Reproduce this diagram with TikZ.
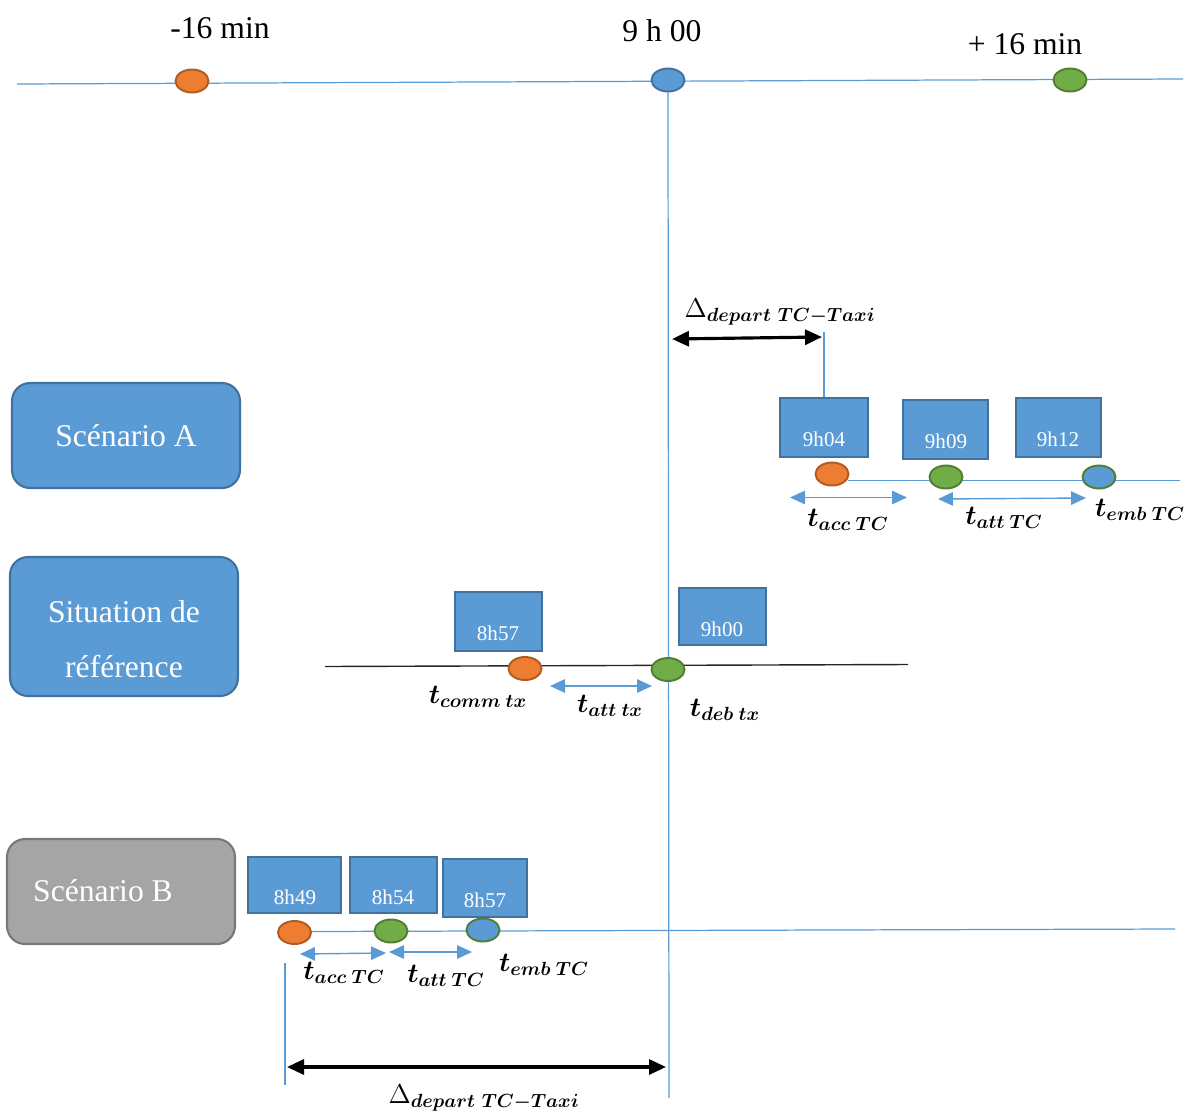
\documentclass[tikz,border=0pt]{standalone}
\usepackage{fix-cm}
\usepackage{amsmath,bm}
\usepackage{fontspec}
\setmainfont{Liberation Serif}
\usetikzlibrary{shapes.geometric,arrows.meta}
\definecolor{lblue}{HTML}{5B9BD5}
\definecolor{dblue}{HTML}{41719C}
\definecolor{corange}{HTML}{ED7D31}
\definecolor{dorange}{HTML}{AE5A21}
\definecolor{cgreen}{HTML}{70AD47}
\definecolor{dgreen}{HTML}{507E32}
\definecolor{cgray}{HTML}{A5A5A5}
\definecolor{dgray}{HTML}{787878}
\pgfdeclarelayer{bg}\pgfsetlayers{bg,main}
\begin{document}
\begin{tikzpicture}[x=0.02cm,y=-0.02cm,
  tline/.style={draw=lblue, line width=0.7pt},
  ell/.style={ellipse, minimum width=0.66cm, minimum height=0.46cm, inner sep=0pt, line width=1.1pt},
  oell/.style={ell, fill=corange, draw=dorange},
  gell/.style={ell, fill=cgreen, draw=dgreen},
  bell/.style={ell, fill=lblue, draw=dblue},
  bgell/.style={ell, fill=lblue, draw=dgreen},
  tbox/.style={rectangle, fill=lblue, draw=dblue, line width=0.9pt, inner sep=0pt},
  ttext/.style={text=white, font=\fontsize{12}{14}\selectfont, inner sep=0pt},
  sbox/.style={rectangle, rounded corners=0.36cm, minimum width=4.56cm, line width=1.2pt, inner sep=0pt},
  stext/.style={text=white, font=\fontsize{18}{22}\selectfont, inner sep=0pt},
  toptext/.style={font=\fontsize{18}{22}\selectfont, inner sep=0pt, anchor=base},
  mlab/.style={font=\fontsize{15.5}{18}\selectfont, inner sep=0pt},
  barr/.style={draw=lblue, line width=0.8pt, {Triangle[length=0.3cm,width=0.27cm]}-{Triangle[length=0.3cm,width=0.27cm]}},
  karr/.style={draw=black, line width=1.8pt, {Triangle[length=0.34cm,width=0.3cm]}-{Triangle[length=0.34cm,width=0.3cm]}}
]
\useasboundingbox (0,0) rectangle (1186,1116);

% ---------- top time axis ----------
\coordinate (tl0) at (17,84);
\coordinate (tl1) at (1183,79);
\node[oell] (o1) at (192,81) {};
\node[bell] (b1) at (668,80) {};
\node[gell] (g1) at (1070,80) {};
\node[toptext] (lm16) at (220,38) {-16 min};
\node[toptext] (l900) at (662,41) {9 h 00};
\node[toptext] (lp16) at (1025,54) {+ 16 min};
\coordinate (vbot) at (669,1098);

% ---------- scenario boxes ----------
\node[sbox, fill=lblue, draw=dblue, minimum height=2.1cm] (sA) at (126,435.5) {};
\node[stext, anchor=base] (sAt) at (126,446) {Scénario A};
\node[sbox, fill=lblue, draw=dblue, minimum height=2.78cm] (sR) at (124,626.5) {};
\node[stext, anchor=base] (sRt1) at (124,622) {Situation de};
\node[stext, anchor=base] (sRt2) at (124,677) {référence};
\node[sbox, fill=cgray, draw=dgray, minimum height=2.1cm] (sB) at (121,891.5) {};
\node[stext, anchor=base] (sBt) at (103,901) {Scénario B};

% ---------- Scenario A ----------
\node[tbox, minimum width=1.76cm, minimum height=1.18cm] (a1) at (824,427.5) {};
\node[tbox, minimum width=1.70cm, minimum height=1.18cm] (a2) at (945.5,429.5) {};
\node[tbox, minimum width=1.70cm, minimum height=1.18cm] (a3) at (1058.5,427.5) {};
\node[ttext] (a1t) at (824,439) {9h04};
\node[ttext] (a2t) at (946,441) {9h09};
\node[ttext] (a3t) at (1058,439) {9h12};
\coordinate (lA0) at (848,480.5);
\coordinate (lA1) at (1180,480.5);
\node[oell] (ao) at (832,474) {};
\node[gell] (ag) at (946,477) {};
\node[bgell] (ab) at (1099,477) {};
\coordinate (aA1) at (790,497.5);
\coordinate (aA2) at (907,497.5);
\coordinate (aB1) at (938,499);
\coordinate (aB2) at (1086,498);
\node[mlab] (atacc) at (848,520) {$\boldsymbol{t}_{\boldsymbol{acc\;TC}}$};
\node[mlab] (atatt) at (1004,518) {$\boldsymbol{t}_{\boldsymbol{att\;TC}}$};
\node[mlab] (atemb) at (1140,510) {$\boldsymbol{t}_{\boldsymbol{emb\;TC}}$};
\node[mlab] (adelta) at (780,312) {$\Delta_{\boldsymbol{depart\ TC-Taxi}}$};
\coordinate (dA1) at (672,339);
\coordinate (dA2) at (822,337);
\coordinate (vA) at (824,332);

% ---------- Situation de reference ----------
\node[tbox, minimum width=1.74cm, minimum height=1.18cm] (r1) at (498.5,621.5) {};
\node[tbox, minimum width=1.74cm, minimum height=1.14cm] (r2) at (722.5,616.5) {};
\node[ttext] (r1t) at (498,633) {8h57};
\node[ttext] (r2t) at (722,629) {9h00};
\coordinate (lR0) at (325,666.5);
\coordinate (lR1) at (908,664.5);
\node[oell] (ro) at (525,668.5) {};
\node[gell] (rg) at (668,669.5) {};
\coordinate (aR1) at (550,686);
\coordinate (aR2) at (652,686);
\node[mlab] (rtcomm) at (478,697) {$\boldsymbol{t}_{\boldsymbol{comm\;tx}}$};
\node[mlab] (rtatt) at (610,706) {$\boldsymbol{t}_{\boldsymbol{att\;tx}}$};
\node[mlab] (rtdeb) at (725,710) {$\boldsymbol{t}_{\boldsymbol{deb\;tx}}$};

% ---------- Scenario B ----------
\node[tbox, minimum width=1.86cm, minimum height=1.12cm] (c1) at (294.5,885) {};
\node[tbox, minimum width=1.74cm, minimum height=1.12cm] (c2) at (393.5,885) {};
\node[tbox, minimum width=1.68cm, minimum height=1.16cm] (c3) at (485,888) {};
\node[ttext] (c1t) at (295,897) {8h49};
\node[ttext] (c2t) at (393,897) {8h54};
\node[ttext] (c3t) at (485,900) {8h57};
\coordinate (lB0) at (310,931.5);
\coordinate (lB1) at (1175,929);
\node[oell] (co) at (294.5,932.5) {};
\node[gell] (cg) at (391,931) {};
\node[bgell] (cb) at (483,930) {};
\coordinate (aC1) at (300,954);
\coordinate (aC2) at (386,953);
\coordinate (aD1) at (389,952);
\coordinate (aD2) at (472,952);
\node[mlab] (ctacc) at (344,973) {$\boldsymbol{t}_{\boldsymbol{acc\;TC}}$};
\node[mlab] (ctatt) at (446,976) {$\boldsymbol{t}_{\boldsymbol{att\;TC}}$};
\node[mlab] (ctemb) at (544,965) {$\boldsymbol{t}_{\boldsymbol{emb\;TC}}$};
\coordinate (vB0) at (285,963);
\coordinate (vB1) at (285,1085);
\coordinate (dB1) at (287,1067);
\coordinate (dB2) at (666,1067);
\node[mlab] (cdelta) at (484,1098) {$\Delta_{\boldsymbol{depart\ TC-Taxi}}$};

% ---------- lines and arrows ----------
\begin{pgfonlayer}{bg}
  \draw[tline] (tl0) -- (tl1);
  \draw[tline] (b1.south) -- (vbot);
  \draw[tline] (lA0) -- (lA1);
  \draw[tline] (vA) -- (a1.north);
  \draw[draw=black!85, line width=0.8pt] (lR0) -- (lR1);
  \draw[tline] (lB0) -- (lB1);
  \draw[tline] (vB0) -- (vB1);
\end{pgfonlayer}
\draw[barr] (aA1) -- (aA2);
\draw[barr] (aB1) -- (aB2);
\draw[barr] (aR1) -- (aR2);
\draw[barr] (aC1) -- (aC2);
\draw[barr] (aD1) -- (aD2);
\draw[karr] (dA1) -- (dA2);
\draw[karr] (dB1) -- (dB2);
\end{tikzpicture}
\end{document}
